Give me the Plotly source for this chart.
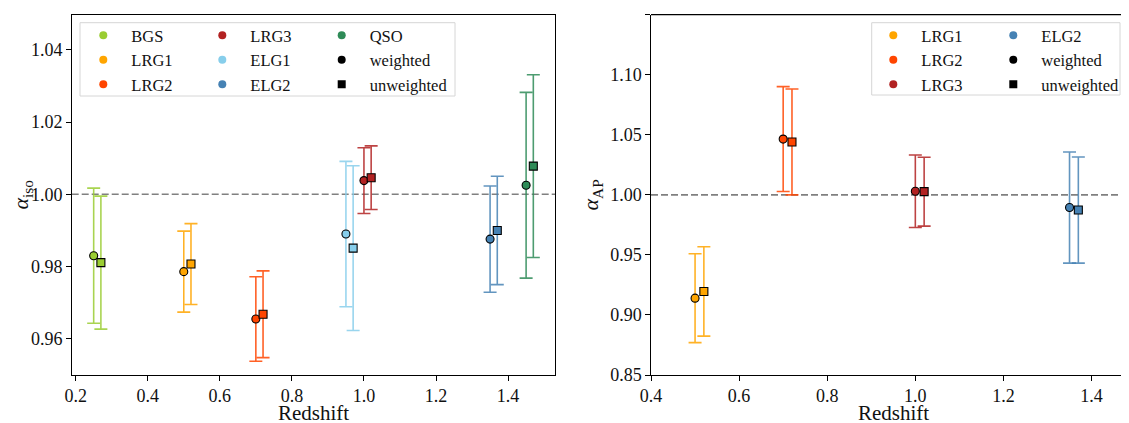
import plotly.graph_objects as go

# ---------------- data ----------------
# Left panel: alpha_iso
iso_tracers = ["BGS", "LRG1", "LRG2", "ELG1", "LRG3", "ELG2", "QSO"]
iso_z_w = [0.25, 0.50, 0.70, 0.95, 1.00, 1.35, 1.45]
iso_z_u = [0.27, 0.52, 0.72, 0.97, 1.02, 1.37, 1.47]
iso_w = [0.9830, 0.9786, 0.9655, 0.9890, 1.0038, 0.9876, 1.0025]
iso_w_err = [0.0187, 0.0112, 0.0117, 0.0201, 0.0091, 0.0147, 0.0257]
iso_u = [0.9811, 0.9807, 0.9668, 0.9851, 1.0046, 0.9900, 1.0078]
iso_u_err = [0.0184, 0.0112, 0.0120, 0.0228, 0.0088, 0.0150, 0.0253]

# Right panel: alpha_AP
ap_tracers = ["LRG1", "LRG2", "LRG3", "ELG2"]
ap_z_w = [0.50, 0.70, 1.00, 1.35]
ap_z_u = [0.52, 0.72, 1.02, 1.37]
ap_w = [0.9140, 1.0465, 1.0030, 0.9895]
ap_w_err = [0.0370, 0.0437, 0.0302, 0.0463]
ap_u = [0.9196, 1.0441, 1.0027, 0.9874]
ap_u_err = [0.0372, 0.0441, 0.0287, 0.0442]

colors = {
    "BGS": "#9ACD32", "LRG1": "#FFA500", "LRG2": "#FF4500", "LRG3": "#B22222",
    "ELG1": "#87CEEB", "ELG2": "#4682B4", "QSO": "#2E8B57",
}

iso_legend_cols = [["BGS", "LRG1", "LRG2"], ["LRG3", "ELG1", "ELG2"], ["QSO", "weighted", "unweighted"]]
ap_legend_cols = [["LRG1", "LRG2", "LRG3"], ["ELG2", "weighted", "unweighted"]]

iso_yticks = [0.96, 0.98, 1.00, 1.02, 1.04]
ap_yticks = [0.85, 0.90, 0.95, 1.00, 1.05, 1.10, 1.15]
iso_xticks = [0.2, 0.4, 0.6, 0.8, 1.0, 1.2, 1.4]
ap_xticks = [0.4, 0.6, 0.8, 1.0, 1.2, 1.4]

x_label = "Redshift"

# ---------------- figure ----------------
# the page body adds an 8px offset, so the figure is drawn 8px smaller and shifted
OFF = 8.0
W, H = 1129 - 8, 423 - 8
FONT = "Liberation Serif, Times New Roman, serif"
TXT = "#111"


def px(xp):
    return (xp - OFF) / W


def py(yp):
    return 1 - (yp - OFF) / H


def rgba(hexc, a):
    h = hexc.lstrip("#")
    return "rgba(%d,%d,%d,%.2f)" % (int(h[0:2], 16), int(h[2:4], 16), int(h[4:6], 16), a)


fig = go.Figure()


def add_points(z, y, err, color, symbol, xa, ya):
    fig.add_trace(go.Scatter(
        x=[z], y=[y], mode="markers", xaxis=xa, yaxis=ya, showlegend=False,
        marker=dict(symbol=symbol, size=8, color=color, line=dict(color="black", width=1.1)),
        error_y=dict(type="data", array=[err], visible=True, color=rgba(color, 0.85),
                     thickness=1.6, width=6.5),
        hoverinfo="skip",
    ))


for i, t in enumerate(iso_tracers):
    add_points(iso_z_w[i], iso_w[i], iso_w_err[i], colors[t], "circle", "x", "y")
    add_points(iso_z_u[i], iso_u[i], iso_u_err[i], colors[t], "square", "x", "y")

for i, t in enumerate(ap_tracers):
    add_points(ap_z_w[i], ap_w[i], ap_w_err[i], colors[t], "circle", "x2", "y2")
    add_points(ap_z_u[i], ap_u[i], ap_u_err[i], colors[t], "square", "x2", "y2")


def legend_entry(name, legend_id, xa, ya):
    if name == "weighted":
        mk = dict(symbol="circle", size=8, color="black")
    elif name == "unweighted":
        mk = dict(symbol="square", size=8, color="black")
    else:
        mk = dict(symbol="circle", size=8, color=colors[name])
    fig.add_trace(go.Scatter(x=[None], y=[None], mode="markers", name=name, marker=mk,
                             legend=legend_id, xaxis=xa, yaxis=ya, showlegend=True))


legend_ids_left = ["legend", "legend2", "legend3"]
legend_ids_right = ["legend4", "legend5"]
for col, lid in zip(iso_legend_cols, legend_ids_left):
    for n in col:
        legend_entry(n, lid, "x", "y")
for col, lid in zip(ap_legend_cols, legend_ids_right):
    for n in col:
        legend_entry(n, lid, "x2", "y2")

x_dom1 = [px(71.7), px(555.3)]
x_dom2 = [px(651.0), 1.0]
y_dom = [py(375.0), py(14.7)]

axis_common = dict(showline=True, linecolor="black", linewidth=1.2, ticks="outside",
                   ticklen=4.5, tickwidth=1.1, tickcolor="black", showgrid=False,
                   zeroline=False, automargin=False,
                   tickfont=dict(family=FONT, size=18, color=TXT))

fig.update_layout(
    width=W, height=H, margin=dict(l=0, r=0, t=0, b=0, autoexpand=False),
    plot_bgcolor="white", paper_bgcolor="white",
    font=dict(family=FONT, size=16, color=TXT),
    xaxis=dict(domain=x_dom1, range=[0.189, 1.531], tickvals=iso_xticks, ticktext=["%.1f" % v for v in iso_xticks],
               mirror=True, anchor="y", **axis_common),
    yaxis=dict(domain=y_dom, range=[0.95, 1.0497], tickvals=iso_yticks, ticktext=["%.2f" % v for v in iso_yticks],
               mirror=True, anchor="x",
               title=dict(text="<i>α</i><sub>iso</sub>", font=dict(family=FONT, size=22, color=TXT), standoff=5),
               **axis_common),
    xaxis2=dict(domain=x_dom2, range=[0.4, 1.485], tickvals=ap_xticks, ticktext=["%.1f" % v for v in ap_xticks],
                mirror=False, anchor="y2", **axis_common),
    yaxis2=dict(domain=y_dom, range=[0.85, 1.1501], tickvals=ap_yticks, ticktext=["%.2f" % v for v in ap_yticks],
                mirror=False, anchor="x2",
                title=dict(text="<i>α</i><sub>AP</sub>", font=dict(family=FONT, size=22, color=TXT), standoff=5),
                **axis_common),
)

# x-axis titles as annotations (placed just below the tick labels)
for cx in ((x_dom1[0] + x_dom1[1]) / 2, (px(651.0) + px(1135.8)) / 2):
    fig.add_annotation(text=x_label, x=cx, y=py(413.0), xref="paper", yref="paper",
                       xanchor="center", yanchor="middle", showarrow=False,
                       font=dict(family=FONT, size=21, color=TXT))

# top frame line of right panel (right edge is outside the picture)
fig.add_shape(type="line", xref="x2 domain", yref="y2 domain", x0=0, x1=1, y0=1, y1=1,
              line=dict(color="black", width=1.2), layer="above")

# dashed reference lines at 1
for xa, ya in (("x", "y"), ("x2", "y2")):
    fig.add_shape(type="line", xref=xa + " domain", yref=ya, x0=0, x1=1, y0=1.0, y1=1.0,
                  line=dict(color="#808080", width=1.6, dash="7px,3px"), layer="below")

# legend frames
fig.add_shape(type="rect", xref="paper", yref="paper", x0=px(80), x1=px(455),
              y0=py(96), y1=py(22.7), line=dict(color="#d6d6d6", width=1),
              fillcolor="white", layer="below")
fig.add_shape(type="rect", xref="paper", yref="paper", x0=px(871.7), x1=px(1120),
              y0=py(95), y1=py(22.7), line=dict(color="#d6d6d6", width=1),
              fillcolor="white", layer="below")

leg_common = dict(bgcolor="rgba(0,0,0,0)", borderwidth=0, xanchor="left", yanchor="top",
                  itemwidth=46, font=dict(family=FONT, size=16.5, color=TXT),
                  xref="paper", yref="paper", itemclick=False, itemdoubleclick=False)
leg_top = py(18.0)
fig.update_layout(
    legend=dict(x=px(75.3), y=leg_top, **leg_common),
    legend2=dict(x=px(194.3), y=leg_top, **leg_common),
    legend3=dict(x=px(313.7), y=leg_top, **leg_common),
    legend4=dict(x=px(865.3), y=leg_top, **leg_common),
    legend5=dict(x=px(985.3), y=leg_top, **leg_common),
)

fig.write_html("out.html")
